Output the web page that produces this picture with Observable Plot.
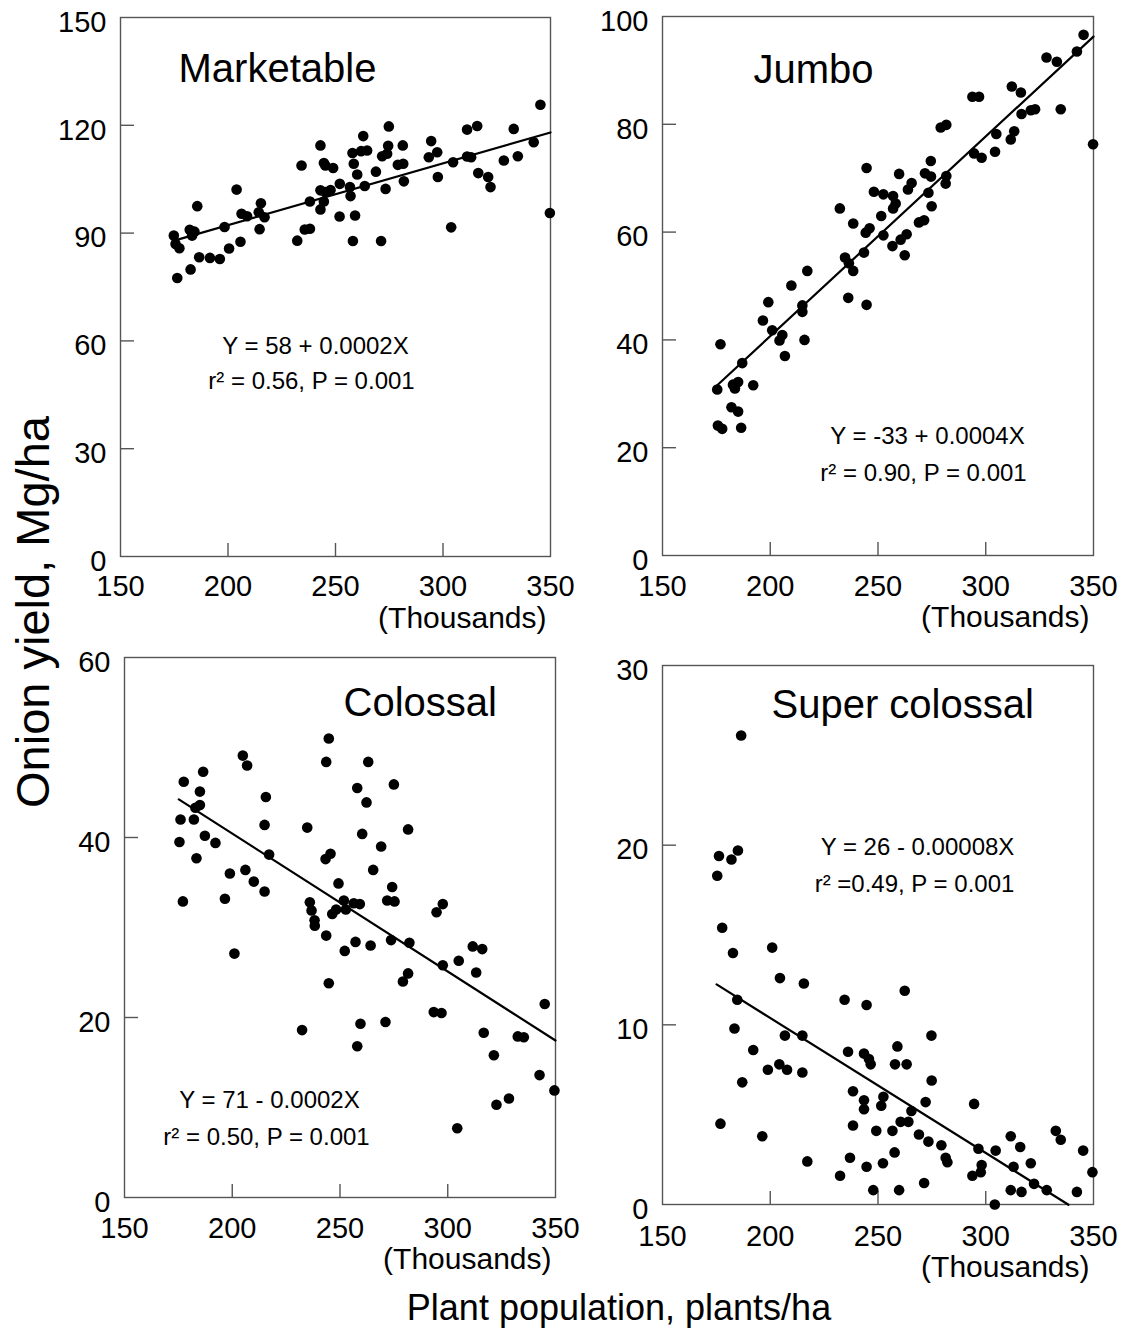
<!DOCTYPE html>
<html>
<head>
<meta charset="utf-8">
<script src="https://cdn.jsdelivr.net/npm/d3@7"></script>
<script src="https://cdn.jsdelivr.net/npm/@observablehq/plot@0.6"></script>
<style>
  body { margin: 0; background: #fff; }
  #root { position: relative; width: 1131px; height: 1331px; overflow: hidden; background: #fff;
          font-family: "Liberation Sans", Arial, Helvetica, sans-serif; color: #000; }
  .panel { position: absolute; }
  .panel svg { overflow: visible; }
  #ytitle { position: absolute; left: 32px; top: 612px; width: 0; height: 0; }
  #ytitle span { position: absolute; left: 0; top: 0; white-space: nowrap; font-size: 47px; line-height: 1;
                 transform: translate(-50%, -50%) rotate(-90deg); }
  #xtitle { position: absolute; left: 319px; width: 600px; top: 1290px; text-align: center;
            font-size: 36px; line-height: 1; white-space: nowrap; }
</style>
</head>
<body>
<div id="root">
  <div id="ytitle"><span>Onion yield, Mg/ha</span></div>
  <div id="xtitle">Plant population, plants/ha</div>
</div>
<script>
// ---------------- DATA ----------------
const xTicks = [150, 200, 250, 300, 350];
const xDomain = [150, 350];

const marketableTicks = [0, 30, 60, 90, 120, 150];
const jumboTicks = [0, 20, 40, 60, 80, 100];
const colossalTicks = [0, 20, 40, 60];
const superTicks = [0, 10, 20, 30];

// [plant population (thousands/ha), yield (Mg/ha)]
const marketable = [
  [174.8,89.3],[175.6,87.0],[177.4,85.8],[176.4,77.5],[182.6,79.9],[182.2,90.9],[184.4,90.4],[183.3,89.3],
  [185.7,97.5],[186.6,83.3],[191.6,83.1],[196.2,82.8],[198.4,91.7],[200.5,85.7],[204.0,102.1],[205.8,87.6],
  [206.3,95.4],[208.9,94.7],[214.3,95.8],[215.3,98.3],[214.7,91.1],[217.0,94.4],[232.2,87.9],[234.2,108.8],
  [235.7,91.0],[238.1,91.2],[238.1,98.8],[243.0,114.4],[244.6,109.5],[245.3,108.8],[248.9,108.1],[243.0,101.9],
  [245.3,101.4],[247.7,102.0],[244.6,98.8],[243.0,96.6],[252.0,103.7],[251.9,94.6],[256.7,102.8],[257.0,100.3],
  [257.9,112.3],[258.5,109.3],[260.1,106.3],[261.9,112.8],[264.7,113.0],[262.9,117.0],[263.6,103.1],[258.1,87.8],
  [259.1,94.9],[268.8,107.1],[271.2,87.8],[271.7,111.4],[274.0,112.1],[274.5,114.3],[274.8,119.7],[273.3,102.3],
  [279.0,109.0],[281.5,109.3],[281.3,114.4],[281.8,104.4],[293.4,111.1],[294.5,115.6],[297.3,112.5],[297.6,105.6],
  [303.8,91.6],[304.7,109.7],[311.2,118.8],[315.9,119.8],[311.2,111.3],[313.1,111.1],[316.4,106.7],[321.0,105.6],
  [322.1,102.8],[328.3,110.2],[332.9,119.0],[334.8,111.4],[342.2,115.3],[345.3,125.7],[349.7,95.6]
];

const jumbo = [
  [199.1,47.0],[209.8,50.1],[217.2,52.8],[214.9,46.4],[214.9,45.2],[236.2,47.8],[244.7,46.5],[232.3,64.4],
  [234.7,55.3],[236.5,54.2],[238.5,52.8],[238.5,61.6],[243.5,56.2],[244.3,59.9],[246.1,60.7],[244.7,71.9],
  [248.1,67.5],[252.5,67.0],[251.5,63.0],[252.5,59.4],[257.0,66.7],[258.2,65.3],[257.0,64.4],[256.7,57.4],
  [260.5,58.6],[263.3,59.6],[262.4,55.7],[259.8,70.8],[263.9,67.9],[265.6,69.1],[269.0,61.8],[271.4,62.2],
  [273.4,67.3],[274.5,73.2],[271.8,70.9],[274.6,70.3],[274.9,64.8],[279.1,79.4],[281.7,79.9],[281.7,70.4],
  [281.4,69.0],[293.8,85.1],[296.9,85.1],[294.6,74.6],[298.1,73.8],[304.3,74.9],[304.9,78.2],[312.1,87.0],
  [316.3,85.9],[311.6,77.2],[313.2,78.7],[316.6,81.9],[320.9,82.6],[322.9,82.8],[328.2,92.4],[333.0,91.6],
  [334.8,82.8],[342.3,93.5],[345.4,96.6],[349.8,76.3],
  [196.6,43.6],[200.9,41.8],[205.6,40.9],[204.3,39.9],[206.8,37.0],[215.9,40.0],[176.9,39.2],[187.0,35.7],
  [175.4,30.8],[182.7,31.7],[185.1,32.2],[183.6,31.0],[192.1,31.6],[182.0,27.5],[185.1,26.7],[175.7,24.1],
  [177.7,23.5],[186.5,23.7]
];

const colossal = [
  [177.5,46.2],[186.5,47.3],[185.0,45.1],[185.0,43.6],[182.9,43.3],[176.0,42.0],[182.2,42.0],[187.3,40.2],
  [192.2,39.4],[175.5,39.5],[183.4,37.7],[177.1,32.9],[196.6,33.2],[198.9,36.0],[206.1,36.4],[210.0,35.1],
  [215.0,34.0],[204.9,49.1],[206.9,48.0],[215.6,44.5],[215.0,41.4],[217.1,38.1],[201.0,27.1],[234.8,41.1],
  [236.0,32.8],[236.8,31.9],[238.2,30.8],[238.3,30.2],[243.6,29.1],[244.8,51.0],[243.6,48.4],[243.3,37.6],
  [245.6,38.2],[249.3,34.9],[246.4,31.5],[248.2,32.0],[251.8,33.0],[252.7,32.0],[252.2,27.4],[257.2,28.4],
  [256.4,32.7],[259.2,32.6],[258.0,45.5],[262.3,43.9],[260.3,40.4],[263.1,48.4],[264.2,28.0],[265.4,36.4],
  [269.1,39.0],[275.0,45.9],[274.2,34.5],[271.9,33.0],[275.3,32.9],[273.7,28.6],[281.6,40.9],[282.2,28.3],
  [294.8,31.7],[297.7,32.6],[297.7,25.8],[305.1,26.3],[311.6,27.9],[316.0,27.6],[313.2,25.0],[281.6,24.9],
  [279.2,24.0],[244.8,23.8],[232.4,18.6],[259.5,19.3],[258.0,16.8],[271.1,19.5],[293.5,20.6],[297.1,20.5],
  [304.4,7.7],[316.7,18.3],[321.4,15.8],[322.6,10.3],[328.4,11.0],[332.5,17.9],[335.3,17.8],[342.6,13.6],
  [345.0,21.5],[349.5,11.9]
];

const superColossal = [
  [186.5,26.1],[176.2,19.4],[182.0,19.2],[185.0,19.7],[175.4,18.3],[177.7,15.4],[182.7,14.0],[200.9,14.3],
  [204.5,12.6],[215.6,12.3],[184.7,11.4],[183.4,9.8],[206.8,9.4],[214.9,9.4],[192.1,8.6],[198.9,7.5],
  [204.2,7.8],[207.8,7.5],[214.9,7.35],[187.0,6.8],[176.9,4.5],[196.3,3.8],[217.2,2.4],[234.5,11.4],
  [244.7,11.1],[262.4,11.9],[236.1,8.5],[243.5,8.4],[245.8,8.1],[246.6,7.8],[259.0,8.8],[257.9,7.8],
  [263.3,7.8],[274.8,9.4],[274.9,6.9],[238.4,6.3],[243.5,5.8],[243.5,5.3],[252.5,6.0],[251.5,5.5],
  [272.1,5.7],[265.5,5.2],[260.5,4.6],[264.1,4.6],[256.7,4.1],[249.2,4.1],[238.4,4.4],[269.0,3.9],
  [273.4,3.5],[279.4,3.3],[281.4,2.6],[282.2,2.35],[257.7,2.9],[237.0,2.6],[244.7,2.1],[252.3,2.3],
  [232.4,1.6],[247.8,0.8],[259.8,0.8],[271.4,1.2],[294.6,5.6],[296.6,3.1],[298.1,2.2],[297.7,1.8],
  [293.8,1.6],[304.6,3.0],[304.2,0.0],[311.6,3.8],[312.9,2.1],[316.0,3.2],[320.9,2.3],[311.6,0.8],
  [316.6,0.7],[322.4,1.15],[328.3,0.8],[332.5,4.1],[334.8,3.6],[342.3,0.7],[345.2,3.0],[349.5,1.8]
];

// fitted lines: [intercept, slope per thousand plants, x start, x end]
const marketableFit = [57.8, 0.172, 177.0, 350.0];
const jumboFit = [-33.4, 0.3705, 175.4, 350.0];
const colossalFit = [71.1, -0.1533, 175.2, 350.0];
const superFit = [25.4, -0.0751, 175.1, 338.4];

const panelTitles = ["Marketable", "Jumbo", "Colossal", "Super colossal"];
const equations = [
  ["Y = 58 + 0.0002X", "r\u00B2 = 0.56, P = 0.001"],
  ["Y = -33 + 0.0004X", "r\u00B2 = 0.90, P = 0.001"],
  ["Y = 71 - 0.0002X", "r\u00B2 = 0.50, P = 0.001"],
  ["Y = 26 - 0.00008X", "r\u00B2 =0.49, P = 0.001"]
];
const unitLabel = "(Thousands)";

// ---------------- LAYOUT (pixels) ----------------
const FONT = '"Liberation Sans", Arial, Helvetica, sans-serif';
const layouts = [
  {left: 120, top: 17,  w: 430, h: 539, title: [58, 64],  eq: [[195, 336], [191, 371]], xPad: 19, unitDy: 71},
  {left: 662, top: 16,  w: 431, h: 539, title: [91, 66],  eq: [[265, 427], [261, 464]], xPad: 20, unitDy: 71},
  {left: 124, top: 657, w: 431, h: 540, title: [219, 58], eq: [[145, 450], [142, 487]], xPad: 20, unitDy: 71},
  {left: 662, top: 665, w: 431, h: 539, title: [109, 52], eq: [[255, 189], [252, 226]], xPad: 21, unitDy: 72}
];

const panels = [
  {pts: marketable, yDomain: [0, 150], yTicks: marketableTicks, fit: marketableFit},
  {pts: jumbo, yDomain: [0, 100], yTicks: jumboTicks, fit: jumboFit},
  {pts: colossal, yDomain: [0, 60], yTicks: colossalTicks, fit: colossalFit},
  {pts: superColossal, yDomain: [0, 30], yTicks: superTicks, fit: superFit}
];

const root = document.getElementById("root");
const mL = 75, mT = 20, mR = 20, mB = 90;

panels.forEach((p, i) => {
  const L = layouts[i];
  const [a, b, x0, x1] = p.fit;
  const fitLine = [x0, x1].map(x => ({x, y: a + b * x}));
  const plot = Plot.plot({
    width: mL + L.w + mR,
    height: mT + L.h + mB,
    marginLeft: mL, marginTop: mT, marginRight: mR, marginBottom: mB,
    style: {background: "transparent", fontFamily: FONT, color: "#000", overflow: "visible"},
    x: {domain: xDomain},
    y: {domain: p.yDomain},
    marks: [
      Plot.frame({stroke: "#555", strokeWidth: 1.4}),
      Plot.ruleX(xTicks.slice(1, -1), {stroke: "#555", strokeWidth: 1.4, insetTop: L.h - 13}),
      Plot.ruleY(p.yTicks.slice(1, -1), {stroke: "#555", strokeWidth: 1.4, insetRight: L.w - 14}),
      Plot.axisX({ticks: xTicks, tickSize: 0, tickPadding: L.xPad, fontSize: 29, label: null,
                  tickFormat: d => String(d)}),
      Plot.axisY({ticks: p.yTicks, tickSize: 0, tickPadding: 14, dy: 5, fontSize: 29, label: null,
                  tickFormat: d => String(d)}),
      Plot.line(fitLine, {x: "x", y: "y", stroke: "#000", strokeWidth: 2.2}),
      Plot.dot(p.pts, {x: d => d[0], y: d => d[1], r: 5.3, fill: "#000", stroke: null}),
      Plot.text([panelTitles[i]], {text: d => d, frameAnchor: "top-left", dx: L.title[0], dy: L.title[1],
                  textAnchor: "start", lineAnchor: "bottom", fontSize: 40, fill: "#000"}),
      Plot.text([equations[i][0]], {text: d => d, frameAnchor: "top-left", dx: L.eq[0][0], dy: L.eq[0][1],
                  textAnchor: "middle", lineAnchor: "bottom", fontSize: 24, fill: "#000"}),
      Plot.text([equations[i][1]], {text: d => d, frameAnchor: "top-left", dx: L.eq[1][0], dy: L.eq[1][1],
                  textAnchor: "middle", lineAnchor: "bottom", fontSize: 24, fill: "#000"}),
      Plot.text([unitLabel], {text: d => d, frameAnchor: "bottom-right", dx: -4, dy: L.unitDy,
                  textAnchor: "end", lineAnchor: "bottom", fontSize: 30, fill: "#000"})
    ]
  });
  const div = document.createElement("div");
  div.className = "panel";
  div.style.left = (L.left - mL) + "px";
  div.style.top = (L.top - mT) + "px";
  div.appendChild(plot);
  root.appendChild(div);
});
</script>
</body>
</html>
